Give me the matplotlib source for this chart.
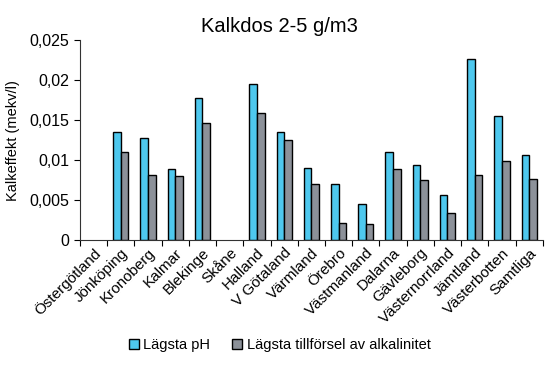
import numpy as np
import matplotlib
matplotlib.use('Agg')
import matplotlib.pyplot as plt
from matplotlib.ticker import FuncFormatter

plt.rcParams['font.family'] = ['Liberation Sans', 'DejaVu Sans']

regions = ['Östergötland', 'Jönköping', 'Kronoberg', 'Kalmar', 'Blekinge', 'Skåne',
           'Halland', 'V Götaland', 'Värmland', 'Örebro', 'Västmanland', 'Dalarna',
           'Gävleborg', 'Västernorrland', 'Jämtland', 'Västerbotten', 'Samtliga']
# no data for Östergötland and Skåne
lagsta_ph = [np.nan, 0.01354, 0.01279, 0.00896, 0.01775, np.nan, 0.01958, 0.01354, 0.00908,
             0.00704, 0.00458, 0.0110, 0.00942, 0.00571, 0.02258, 0.0155, 0.01071]
lagsta_alk = [np.nan, 0.01104, 0.00817, 0.00808, 0.01471, np.nan, 0.01592, 0.01254, 0.00704,
              0.00217, 0.00204, 0.00896, 0.00754, 0.00346, 0.00817, 0.00992, 0.00767]

fig = plt.figure(figsize=(5.59, 3.68), dpi=100)
ax = fig.add_axes([0.143, 0.347, 0.828, 0.544])

x = np.arange(len(regions))
w = 0.28
ax.bar(x - w / 2, lagsta_ph, w, color='#4EC8EE', edgecolor='black', linewidth=1.0,
       label='Lägsta pH')
ax.bar(x + w / 2, lagsta_alk, w, color='#8C9199', edgecolor='black', linewidth=1.0,
       label='Lägsta tillförsel av alkalinitet')

ax.set_xlim(-0.5, len(regions) - 0.5)
ax.set_ylim(0, 0.025)
ax.set_yticks(np.arange(0, 0.0251, 0.005))
ax.yaxis.set_major_formatter(FuncFormatter(lambda v, p: ('%g' % round(v, 4)).replace('.', ',')))

# category boundaries as x ticks
ax.set_xticks(np.arange(-0.5, len(regions), 1.0))
ax.set_xticklabels([])
ax.set_xticks(x, minor=True)
ax.set_xticklabels(regions, minor=True, rotation=45, ha='right', rotation_mode='anchor',
                   fontsize=11)
ax.tick_params(axis='x', which='minor', length=0, pad=4)
ax.tick_params(axis='x', which='major', length=4, direction='out')
ax.tick_params(axis='y', length=4, direction='out', labelsize=11.5)

for s in ['top', 'right']:
    ax.spines[s].set_visible(False)
ax.spines['left'].set_color('#333333')
ax.spines['bottom'].set_color('#333333')

ax.set_ylabel('Kalkeffekt (mekv/l)', fontsize=10.5, labelpad=7)
fig.text(0.5, 1 - 32 / 368, 'Kalkdos 2-5 g/m3', fontsize=14.5, ha='center', va='baseline')

fig.legend(loc='center', bbox_to_anchor=(0.5, 1 - 345 / 368), ncol=2, frameon=False,
           fontsize=10.5, handlelength=0.7, handleheight=0.7, handletextpad=0.3,
           columnspacing=1.5)

fig.savefig('out.png', dpi=100)
